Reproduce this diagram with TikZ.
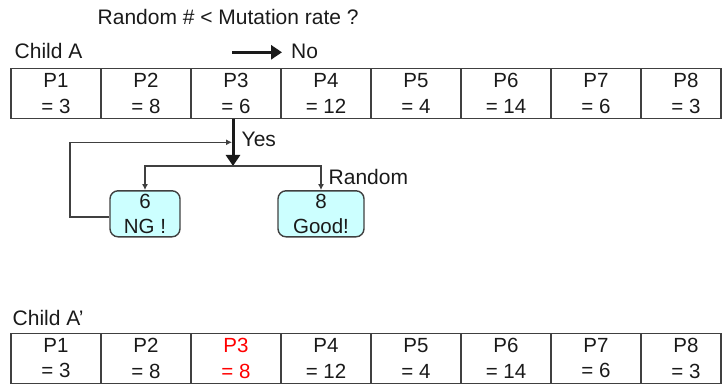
\documentclass[tikz,border=0pt]{standalone}
\usepackage{fontspec}
\setmainfont{Liberation Sans}
\usetikzlibrary{arrows.meta}
\definecolor{edge}{HTML}{404040}
\definecolor{ink}{HTML}{1A1A1A}
\definecolor{boxfill}{HTML}{CCFFFF}
\definecolor{hot}{HTML}{FF0000}
\tikzset{
  lbl/.style={inner sep=0pt, anchor=base west, text=ink, font=\fontsize{21}{25}\selectfont},
  cell/.style={draw=edge, line width=1.6pt, inner sep=0pt, minimum width=90pt, minimum height=50pt,
               align=center, text=ink, font=\fontsize{20.5}{25.4}\selectfont},
  celltext/.style={inner sep=0pt, align=center, text=ink, font=\fontsize{20.5}{25.4}\selectfont},
  choice/.style={draw=edge, line width=1.4pt, fill=boxfill, rounded corners=8pt, inner sep=0pt,
                 minimum height=46pt, align=center, text=ink, font=\fontsize{20.5}{24.7}\selectfont},
  bigarrow/.style={draw=ink, line width=3pt, -{Triangle[width=14pt,length=11pt]}},
  thinarrow/.style={draw=edge, line width=1.4pt, -{Latex[width=6pt,length=6pt]}},
}
\begin{document}
\begin{tikzpicture}[x=1pt, y=-1pt]
\useasboundingbox (0,0) rectangle (723,385);

% question and labels
\node[lbl] (question) at (97.5,25) {Random \# < Mutation rate ?};
\node[lbl] (childA) at (14.5,58.3) {Child A};
\node[lbl] (no) at (291,58.3) {No};
\node[lbl] (yes) at (241.5,147) {Yes};
\node[lbl] (rnd) at (328.5,185) {Random};
\node[lbl] (childB) at (12.5,325) {Child A’};

% original chromosome
\node[cell] (a1) at (56,93.5)  {P1\\= 3};
\node[cell] (a2) at (146,93.5) {P2\\= 8};
\node[cell] (a3) at (236,93.5) {P3\\= 6};
\node[cell] (a4) at (326,93.5) {P4\\= 12};
\node[cell] (a5) at (416,93.5) {P5\\= 4};
\node[cell] (a6) at (506,93.5) {P6\\= 14};
\node[cell] (a7) at (596,93.5) {P7\\= 6};
\node[cell, minimum width=80pt] (a8) at (681,93.5) {};
\node[celltext] (a8t) at (686,93.5) {P8\\= 3};

% mutated chromosome
\node[cell] (b1) at (56,358.3)  {P1\\= 3};
\node[cell] (b2) at (146,358.3) {P2\\= 8};
\node[cell, text=hot] (b3) at (236,358.3) {P3\\= 8};
\node[cell] (b4) at (326,358.3) {P4\\= 12};
\node[cell] (b5) at (416,358.3) {P5\\= 4};
\node[cell] (b6) at (506,358.3) {P6\\= 14};
\node[cell] (b7) at (596,358.3) {P7\\= 6};
\node[cell, minimum width=80pt] (b8) at (681,358.3) {};
\node[celltext] (b8t) at (686,358.3) {P8\\= 3};

% candidate values
\node[choice, minimum width=70pt] (ng) at (145,213.8) {6\\NG !};
\node[choice, minimum width=86pt] (good) at (321,213.8) {8\\Good!};

% decision arrows
\coordinate (nostart) at (232,52.3);
\draw[bigarrow, shorten >=9pt] (nostart) -- (no.west |- nostart);
\coordinate (split) at (233,166);
\draw[bigarrow] ([xshift=-3pt]a3.south) -- (split);

% random pick among candidates
\draw[thinarrow] (split) -| (ng.north);
\draw[thinarrow] (split) -| (good.north);

% retry loop when the pick equals the old value
\coordinate (retry) at (232,142.3);
\draw[thinarrow] ([yshift=-3pt]ng.west) -- ++(-39.5,0) |- (retry);
\end{tikzpicture}
\end{document}
